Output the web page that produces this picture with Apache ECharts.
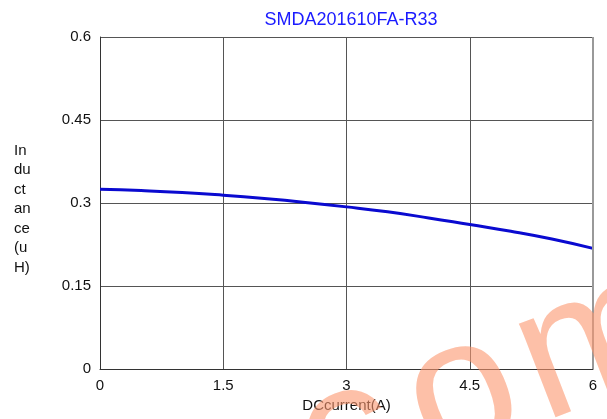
<!DOCTYPE html>
<html>
<head>
<meta charset="utf-8">
<script src="https://cdn.jsdelivr.net/npm/echarts@6/dist/echarts.min.js"></script>
<style>
  html, body { margin: 0; padding: 0; background: #fff; }
  #chart { width: 607px; height: 419px; }
</style>
</head>
<body>
<div id="chart"></div>
<script>
'use strict';

const current = [0, 0.5, 1, 1.5, 2, 2.5, 3, 3.5, 4, 4.5, 5, 5.5, 6];
const inductance = [0.325, 0.3225, 0.319, 0.314, 0.308, 0.301, 0.293, 0.284, 0.273, 0.261, 0.249, 0.235, 0.218];
const xTicks = [0, 1.5, 3, 4.5, 6];
const yTicks = [0, 0.15, 0.3, 0.45, 0.6];

const font = 'Liberation Sans, Arial, sans-serif';

// watermark letters, laid out along a tilted baseline
const markAngle = 0.37;
const markLetters = [
  { ch: 'c', off: -122 },
  { ch: 'o', off: 0 },
  { ch: 'm', off: 145 }
];
const markOrigin = [463, 397];
const markGraphics = markLetters.map(l => ({
  type: 'text',
  x: markOrigin[0] + l.off * Math.cos(markAngle),
  y: markOrigin[1] - l.off * Math.sin(markAngle),
  rotation: markAngle,
  style: {
    text: l.ch,
    fill: 'rgba(252,150,110,0.6)',
    font: '190px ' + font,
    align: 'center',
    verticalAlign: 'middle'
  },
  z: 100
}));

const chart = echarts.init(document.getElementById('chart'));
chart.setOption({
  animation: false,
  title: {
    text: 'SMDA201610FA-R33',
    left: 346,
    top: 6,
    textAlign: 'center',
    textStyle: { color: '#1a1aff', fontSize: 18, fontWeight: 'normal', fontFamily: font }
  },
  grid: { left: 100, right: 14, top: 37, bottom: 50 },
  xAxis: {
    type: 'value',
    min: 0, max: 6, interval: 1.5,
    name: 'DCcurrent(A)',
    nameLocation: 'middle',
    nameGap: 29,
    nameTextStyle: { color: '#111', fontSize: 15, fontFamily: font },
    axisLine: { lineStyle: { color: '#333', width: 1 } },
    axisTick: { show: false },
    axisLabel: {
      color: '#111', fontSize: 15, fontFamily: font, margin: 9,
      formatter: v => xTicks.includes(v) ? String(v) : ''
    },
    splitLine: { show: true, lineStyle: { color: '#555', width: 1 } }
  },
  yAxis: {
    type: 'value',
    min: 0, max: 0.6, interval: 0.15,
    axisLine: { show: true, lineStyle: { color: '#333', width: 1 } },
    axisTick: { show: false },
    axisLabel: {
      color: '#111', fontSize: 15, fontFamily: font, margin: 9,
      formatter: v => {
        const t = yTicks.find(y => Math.abs(y - v) < 1e-9);
        return t === undefined ? '' : String(t);
      }
    },
    splitLine: { show: true, lineStyle: { color: '#555', width: 1 } }
  },
  graphic: [
    {
      type: 'line',
      shape: { x1: 593, y1: 37, x2: 593, y2: 369 },
      style: { stroke: '#999', lineWidth: 2 },
      z: 10
    },
    {
      type: 'text',
      left: 14,
      top: 141,
      style: {
        text: 'In\ndu\nct\nan\nce\n(u\nH)',
        fill: '#111',
        font: '15px ' + font,
        lineHeight: 19.5
      }
    }
  ].concat(markGraphics),
  series: [{
    type: 'line',
    data: current.map((c, i) => [c, inductance[i]]),
    smooth: true,
    showSymbol: false,
    lineStyle: { color: '#0a0ad0', width: 3 }
  }]
});
</script>
</body>
</html>
